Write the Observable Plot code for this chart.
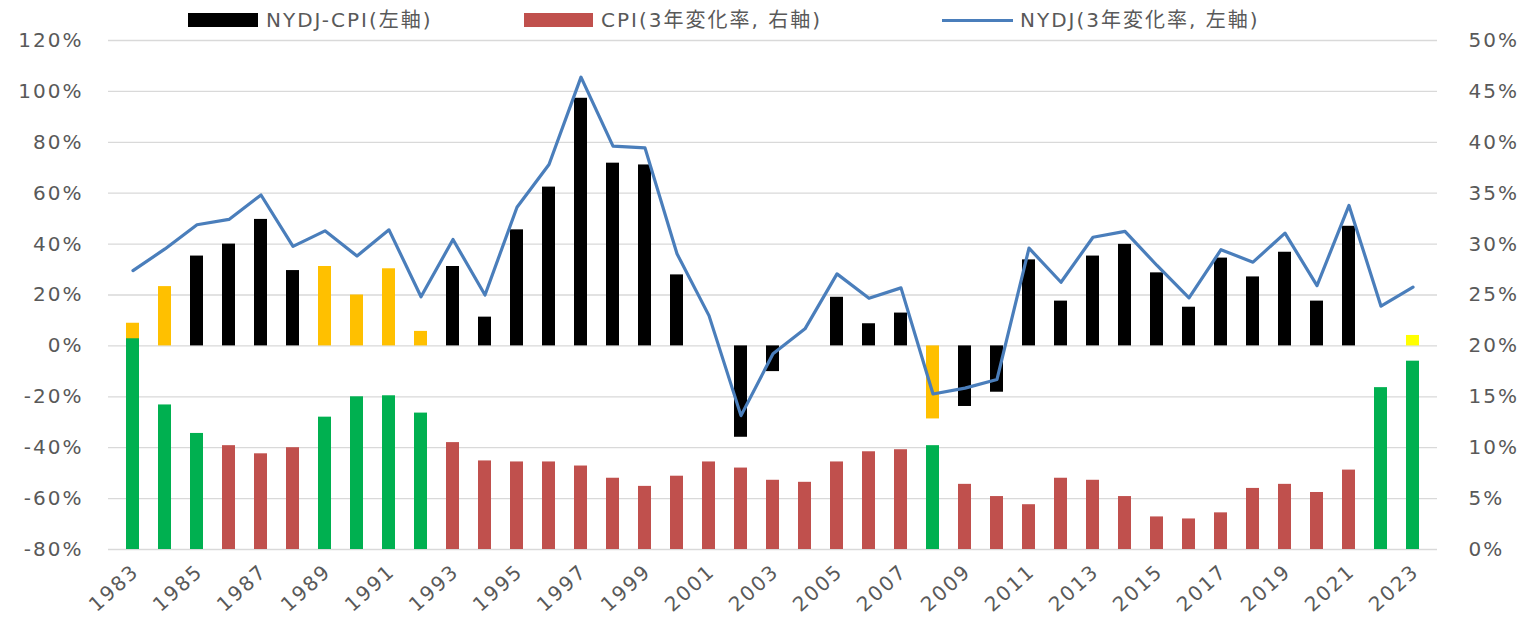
<!DOCTYPE html>
<html><head><meta charset="utf-8">
<script src="https://cdn.jsdelivr.net/npm/d3@7"></script>
<script src="https://cdn.jsdelivr.net/npm/@observablehq/plot@0.6"></script>
<style>
body{margin:0;background:#fff;width:1537px;height:619px;overflow:hidden;font-family:"DejaVu Sans","Noto Sans CJK JP",sans-serif;position:relative;}
#legend{position:absolute;left:0;top:0;height:34px;width:1537px;z-index:2;}
#legend .sw{position:absolute;}
#legend .tx{position:absolute;top:8px;font-size:20px;line-height:24px;color:#595959;letter-spacing:2px;white-space:nowrap;}
svg{display:block;}
svg text{letter-spacing:2px;}
</style></head>
<body>
<div id="chart"></div>
<div id="legend"></div>
<script>
const years = [1983,1984,1985,1986,1987,1988,1989,1990,1991,1992,1993,1994,1995,1996,1997,1998,1999,2000,2001,2002,2003,2004,2005,2006,2007,2008,2009,2010,2011,2012,2013,2014,2015,2016,2017,2018,2019,2020,2021,2022,2023];
// NYDJ 3-year change (%), left axis
const nydj = [29.6,38.1,47.6,49.7,59.3,39.1,45.2,35.3,45.6,19.3,41.8,20.0,54.5,71.3,105.6,78.5,77.8,36.2,11.9,-27.4,-3.1,6.7,28.3,18.7,22.8,-18.9,-16.6,-13.2,38.4,25.0,42.7,45.0,31.6,18.9,37.8,32.9,44.3,23.7,55.2,15.6,23.1];
// NYDJ - CPI (%), left axis
const diff = [8.9,23.3,35.3,40.0,49.7,29.6,31.2,20.0,30.3,5.7,31.2,11.3,45.6,62.4,97.3,71.8,71.1,27.9,null,-35.9,-10.1,null,19.1,8.7,12.9,-28.7,-23.8,-18.2,33.8,17.6,35.3,39.9,28.7,15.2,34.5,27.1,36.8,17.6,47.0,null,4.1];
// CPI 3-year change (%), right axis
const cpi = [20.7,14.2,11.4,10.2,9.4,10.0,13.0,15.0,15.1,13.4,10.5,8.7,8.6,8.6,8.2,7.0,6.2,7.2,8.6,8.0,6.8,6.6,8.6,9.6,9.8,10.2,6.4,5.2,4.4,7.0,6.8,5.2,3.2,3.0,3.6,6.0,6.4,5.6,7.8,15.9,18.5];
// highlighted years
const diffOrangeYears = [1983,1984,1989,1990,1991,1992,2008];
const diffYellowYears = [2023];
const cpiGreenYears = [1983,1984,1985,1989,1990,1991,1992,2008,2022,2023];
// ticks
const leftTicks = [-80,-60,-40,-20,0,20,40,60,80,100,120];
const rightTickLabels = [0,5,10,15,20,25,30,35,40,45,50];
const xTickYears = [1983,1985,1987,1989,1991,1993,1995,1997,1999,2001,2003,2005,2007,2009,2011,2013,2015,2017,2019,2021,2023];
const legendLabels = ["NYDJ-CPI(左軸)", "CPI(3年変化率, 右軸)", "NYDJ(3年変化率, 左軸)"];

const C = {black:"#000000", orange:"#FFC000", yellow:"#FFFF00", red:"#C0504D", green:"#00B050", blue:"#4A7EBB", grid:"#D9D9D9", text:"#595959"};

const rows = years.map((y,i)=>({year:y, nydj:nydj[i], diff:diff[i], cpi:cpi[i]}));
const rightBase = leftTicks[0];
const rightFactor = (leftTicks[leftTicks.length-1]-leftTicks[0])/(rightTickLabels[rightTickLabels.length-1]-rightTickLabels[0]);

// legend
const lg = document.getElementById("legend");
lg.innerHTML = `
<div class="sw" style="left:188px;top:13px;width:70px;height:14px;background:${C.black}"></div>
<div class="tx" style="left:266px">${legendLabels[0]}</div>
<div class="sw" style="left:524px;top:13px;width:69px;height:14px;background:${C.red}"></div>
<div class="tx" style="left:601px">${legendLabels[1]}</div>
<div class="sw" style="left:942px;top:19px;width:71px;height:3px;background:${C.blue}"></div>
<div class="tx" style="left:1020px">${legendLabels[2]}</div>`;

const chart = Plot.plot({
  width: 1537,
  height: 619,
  marginTop: 40,
  marginBottom: 70,
  marginLeft: 108,
  marginRight: 100,
  style: {fontSize: "20px", fontFamily: '"DejaVu Sans","Noto Sans CJK JP",sans-serif', color: C.text, background: "#fff"},
  x: {type: "band", domain: years, paddingInner: 0.6, paddingOuter: 0.3},
  y: {domain: [leftTicks[0], leftTicks[leftTicks.length-1]]},
  color: {type: "identity"},
  marks: [
    Plot.ruleY(leftTicks, {stroke: C.grid, strokeWidth: 1.3}),
    Plot.barY(rows.filter(d => d.diff != null), {
      x: "year", y1: 0, y2: "diff",
      fill: d => diffYellowYears.includes(d.year) ? C.yellow : diffOrangeYears.includes(d.year) ? C.orange : C.black
    }),
    Plot.barY(rows, {
      x: "year", y1: rightBase, y2: d => rightBase + d.cpi*rightFactor,
      fill: d => cpiGreenYears.includes(d.year) ? C.green : C.red
    }),
    Plot.line(rows, {x: "year", y: "nydj", stroke: C.blue, strokeWidth: 3.2, strokeLinejoin: "round"}),
    Plot.axisY(leftTicks, {anchor: "left", tickSize: 0, tickPadding: 25, tickFormat: d => d + "%", label: null}),
    Plot.axisY(leftTicks, {anchor: "right", tickSize: 0, tickPadding: 31, tickFormat: d => rightTickLabels[leftTicks.indexOf(d)] + "%", label: null}),
    Plot.axisX(xTickYears, {tickSize: 0, tickPadding: 14, tickRotate: -42, dy: 5, dx: 3, tickFormat: d => String(d), label: null})
  ]
});
document.getElementById("chart").appendChild(chart);
</script>
</body></html>
